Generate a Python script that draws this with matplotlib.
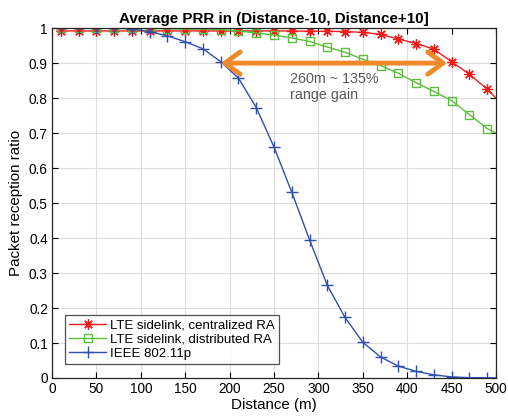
import matplotlib
matplotlib.use("Agg")
import matplotlib.pyplot as plt
from matplotlib.ticker import MultipleLocator

plt.rcParams['font.family'] = ['Liberation Sans', 'DejaVu Sans']

distance = [10, 30, 50, 70, 90, 110, 130, 150, 170, 190, 210, 230, 250,
            270, 290, 310, 330, 350, 370, 390, 410, 430, 450, 470, 490, 500]

prr_centralized = [0.992, 0.992, 0.992, 0.992, 0.992, 0.992, 0.992, 0.992,
                   0.992, 0.992, 0.992, 0.992, 0.992, 0.992, 0.991, 0.991,
                   0.990, 0.988, 0.982, 0.969, 0.956, 0.940, 0.904, 0.868,
                   0.826, 0.800]

prr_distributed = [1.000, 1.000, 1.000, 1.000, 1.000, 0.999, 0.998, 0.997,
                   0.997, 0.996, 0.992, 0.986, 0.980, 0.972, 0.962, 0.946,
                   0.931, 0.911, 0.893, 0.871, 0.844, 0.819, 0.793, 0.753,
                   0.713, 0.700]

prr_80211p = [1.000, 1.000, 1.000, 1.000, 0.998, 0.990, 0.978, 0.961,
              0.941, 0.904, 0.857, 0.773, 0.660, 0.531, 0.395, 0.265,
              0.173, 0.102, 0.060, 0.034, 0.019, 0.009, 0.003, 0.001,
              0.0005, 0.0003]

labels = ['LTE sidelink, centralized RA', 'LTE sidelink, distributed RA',
          'IEEE 802.11p']
title = 'Average PRR in (Distance-10, Distance+10]'
annot_text = '260m ~ 135%\nrange gain'
arrow_from = 190
arrow_to = 445
arrow_y = 0.9

fig = plt.figure(figsize=(5.08, 4.18), dpi=100)
ax = fig.add_axes([0.1024, 0.0957, 0.874, 0.837])

mk = slice(0, len(distance) - 1)
ax.plot(distance, prr_centralized, color='#f21c1c', lw=1.0,
        marker=(8, 2, 0), ms=7.5, mew=0.9, markevery=mk, label=labels[0])
ax.plot(distance, prr_distributed, color='#5cbf3c', lw=1.0,
        marker='s', ms=5.5, mfc='none', mew=1.0, markevery=mk, label=labels[1])
ax.plot(distance, prr_80211p, color='#3050b0', lw=1.0,
        marker='+', ms=8, mew=1.0, markevery=mk, label=labels[2])

ax.annotate('', xy=(arrow_from, arrow_y), xytext=(arrow_to, arrow_y),
            arrowprops=dict(arrowstyle='<->, head_length=0.55, head_width=0.4',
                            color='#f0892a', lw=3.5,
                            mutation_scale=20, shrinkA=0, shrinkB=0))
ax.text(268, 0.875, annot_text, color='#595959', fontsize=10.3,
        va='top', ha='left', linespacing=1.15)

ax.set_xlim(0, 500)
ax.set_ylim(0, 1)
ax.xaxis.set_major_locator(MultipleLocator(50))
ax.set_yticks([i / 10 for i in range(11)])
ax.set_yticklabels(['0'] + ['%.1f' % (i / 10) for i in range(1, 10)] + ['1'])
ax.grid(True, color='#dddddd', lw=0.8)
ax.set_axisbelow(True)
ax.tick_params(direction='in', top=True, right=True, labelsize=9.8,
               length=4, width=0.8, pad=3)
for s in ax.spines.values():
    s.set_color('#262626')
    s.set_linewidth(0.9)

ax.set_title(title, fontsize=10.9, fontweight='bold', pad=4)
ax.set_xlabel('Distance (m)', fontsize=10.9, labelpad=1)
ax.set_ylabel('Packet reception ratio', fontsize=10.9, labelpad=4)

leg = ax.legend(loc='lower left', bbox_to_anchor=(0.03, 0.04), fontsize=9.5,
                frameon=True, fancybox=False, edgecolor='#262626',
                borderpad=0.3, labelspacing=0.15, handlelength=2.8,
                handletextpad=0.3, borderaxespad=0)
leg.get_frame().set_linewidth(0.9)

fig.savefig('out.png', dpi=100)
